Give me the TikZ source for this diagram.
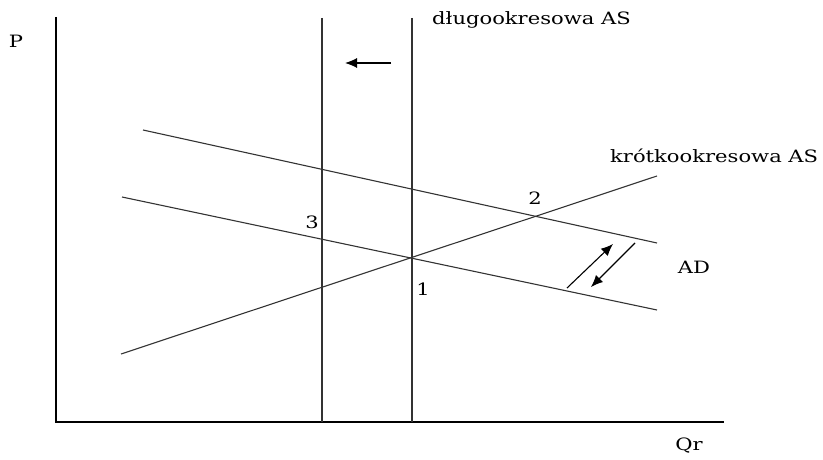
\documentclass[tikz,border=0pt]{standalone}
\usepackage{fontspec}
\setmainfont{DejaVu Serif}[FakeStretch=1.24]
\usetikzlibrary{arrows.meta}
\begin{document}
\begin{tikzpicture}[x=1pt,y=-1pt,
  axis/.style={line width=1.7pt},
  curve/.style={line width=1.1pt, draw=black!80},
  shiftarrow/.style={line width=1.1pt, -{Latex[length=12pt,width=10pt]}},
  lbl/.style={font=\fontsize{17}{20}\selectfont, inner sep=0pt}]
\useasboundingbox (0,0) rectangle (823,460);
% axes
\coordinate (ytop) at (56,17);
\coordinate (orig) at (56,422);
\coordinate (xend) at (724,422);
\draw[axis] (ytop) -- (orig) -- (xend);
\node[lbl] (P) at (16,41) {P};
\node[lbl] (Qr) at (689,446) {Qr};
% long-run AS
\coordinate (lr1t) at (412,18);
\coordinate (lr1b) at (412,422);
\coordinate (lr2t) at (322,18);
\coordinate (lr2b) at (322,422);
\draw[curve] (lr1t) -- (lr1b);
\draw[curve] (lr2t) -- (lr2b);
\node[lbl, anchor=west] (lras) at (432,20) {długookresowa AS};
\coordinate (a1s) at (391,63);
\coordinate (a1e) at (345,63);
\draw[shiftarrow] (a1s) -- (a1e);
% short-run AS
\coordinate (sr1) at (121,354);
\coordinate (sr2) at (657,176);
\draw[curve] (sr1) -- (sr2);
\node[lbl, anchor=west] (sras) at (610,156) {krótkookresowa AS};
% AD curves
\coordinate (adu1) at (143,130);
\coordinate (adu2) at (657,243);
\coordinate (adl1) at (122,197);
\coordinate (adl2) at (657,310);
\draw[curve] (adu1) -- (adu2);
\draw[curve] (adl1) -- (adl2);
\node[lbl] (AD) at (694,267) {AD};
\coordinate (b1s) at (567,288);
\coordinate (b1e) at (613,244);
\coordinate (b2s) at (635,243);
\coordinate (b2e) at (591,287);
\draw[shiftarrow] (b1s) -- (b1e);
\draw[shiftarrow] (b2s) -- (b2e);
% points
\node[lbl] (n1) at (423,289) {1};
\node[lbl] (n2) at (535,198) {2};
\node[lbl] (n3) at (312,222) {3};
\end{tikzpicture}
\end{document}
